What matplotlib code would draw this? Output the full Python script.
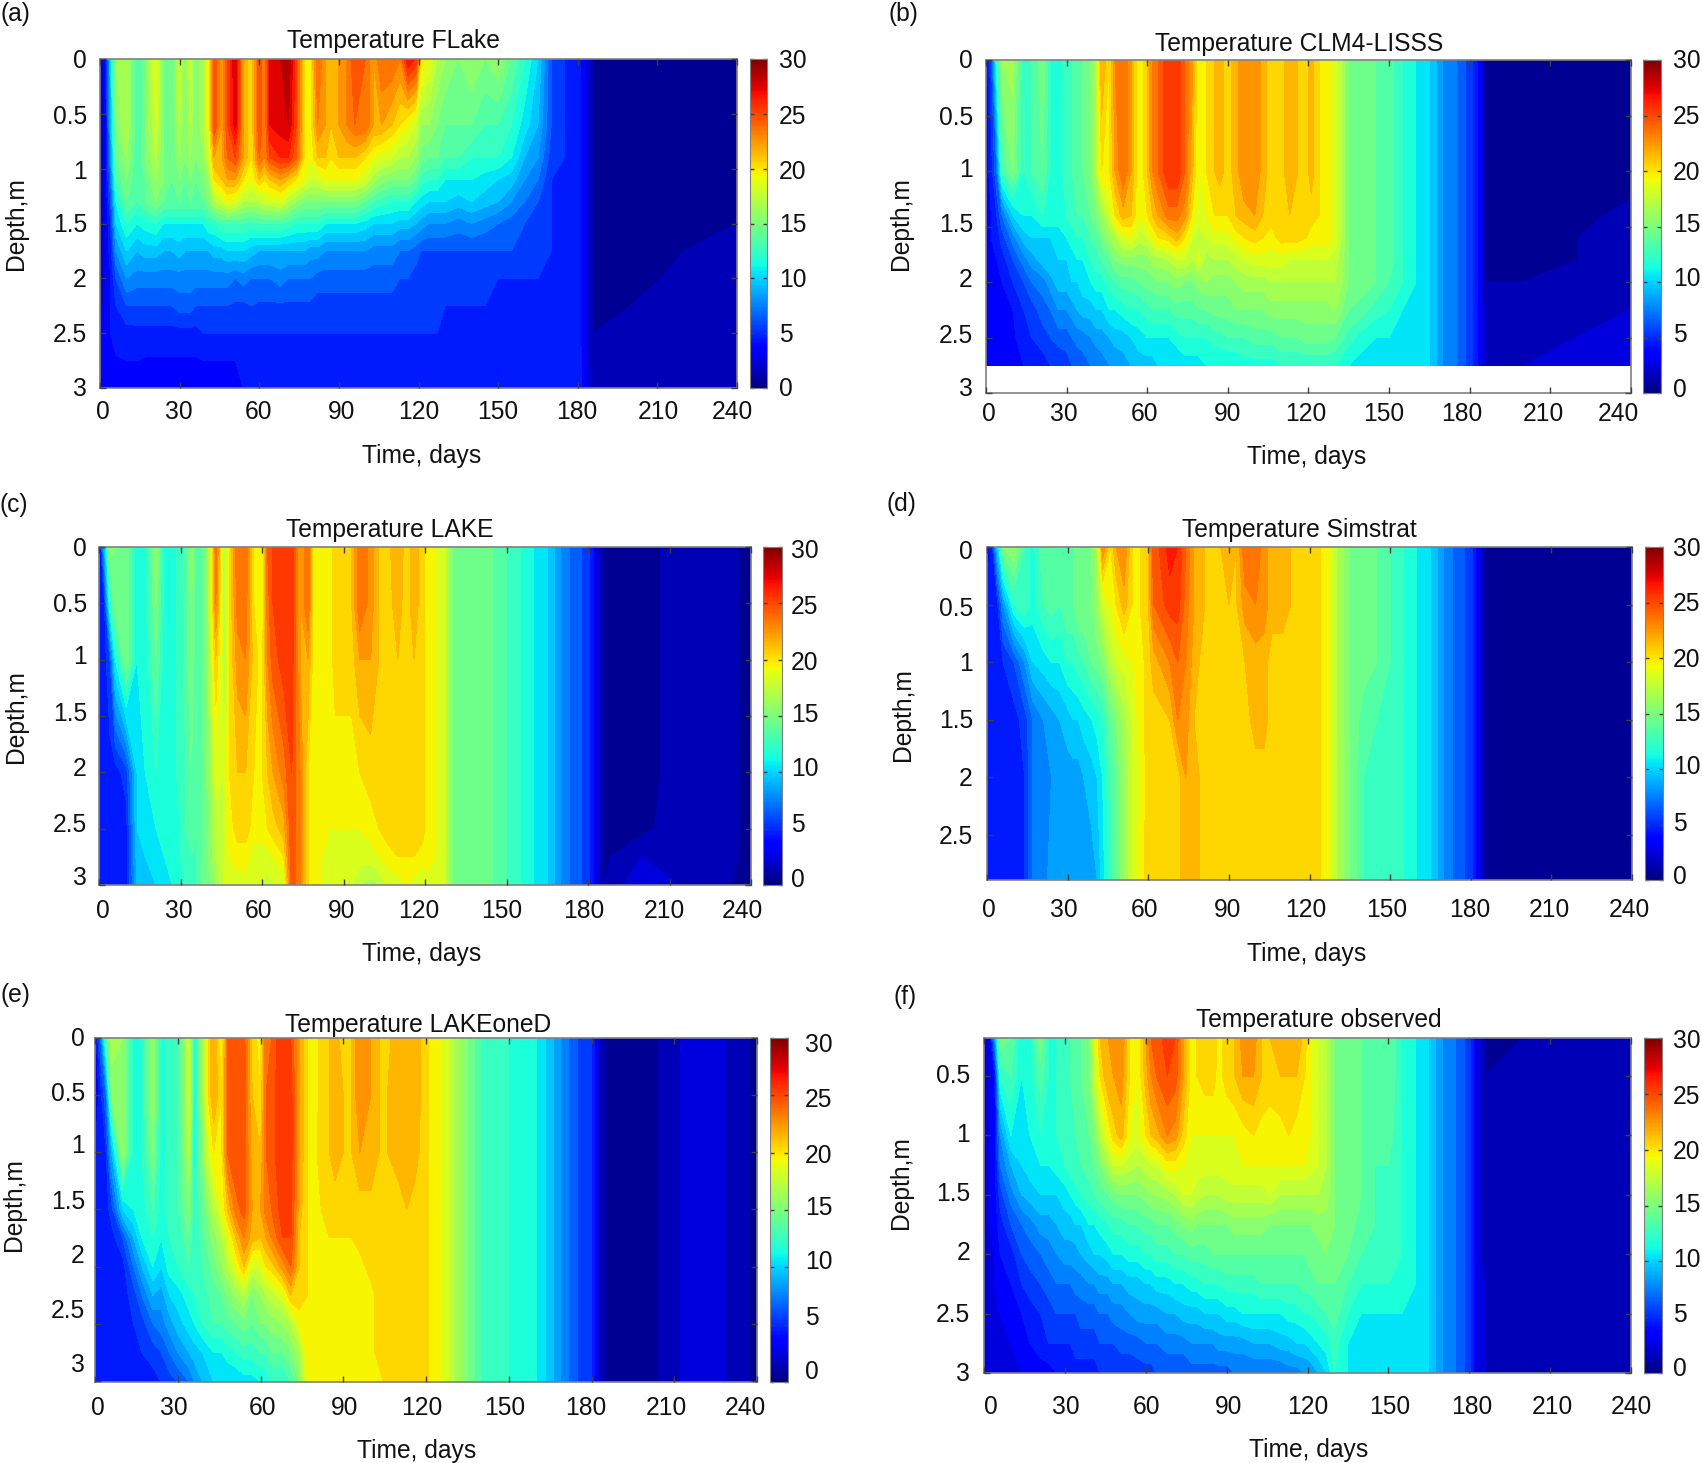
#!/usr/bin/env python3
"""Six panels of lake temperature against depth and time, values read off the picture."""
import numpy as np
import matplotlib
matplotlib.use("Agg")
import matplotlib.pyplot as plt
from matplotlib.cm import ScalarMappable
from matplotlib.colors import Normalize

W, H = 1702, 1463
FONT_SIZE = 17.7

plt.rcParams["font.family"] = ["Liberation Sans", "DejaVu Sans"]

TIME = [0, 2, 4, 6, 10, 14, 17, 21, 24, 27,
        30, 32, 34, 36, 39, 41, 43, 46, 48, 51,
        54, 57, 60, 62, 64, 68, 71, 74, 77, 79,
        82, 85, 87, 90, 93, 96, 100, 103, 106, 110,
        113, 116, 119, 121, 124, 127, 130, 135, 140, 145,
        150, 155, 160, 165, 170, 175, 180, 183, 186, 200, 220, 240]

X_TICKS = [0, 30, 60, 90, 120, 150, 180, 210, 240]
COLOR_TICKS = [30, 25, 20, 15, 10, 5, 0]

DEPTH_A = [0, 0.6, 0.9, 1.1, 1.3, 1.5, 1.75, 2, 2.25, 2.5, 2.75, 3]
TEMP_A = [
    [2, 3.5, 10, 16, 17, 13, 15, 19, 15, 14,
     18, 15, 18, 15, 17, 19, 25, 22, 25, 28,
     22, 20, 25, 23, 27, 28, 29, 25, 20, 19,
     24, 22, 21, 22, 23, 25, 24, 22, 24, 24,
     23, 27, 26, 20, 19, 17, 16, 15, 16, 15,
     16, 14, 12, 10, 6, 5, 4.5, 3, 1, 0.5, 1, 1],
    [2, 3, 9, 15, 17, 13, 15, 18, 15, 14,
     17, 15, 17, 15, 17, 19, 25, 22, 25, 27.5,
     22, 20, 25, 23, 27, 27.5, 28, 25, 20, 19,
     23, 22, 21, 22, 23, 24, 24, 22, 22, 21,
     20, 19, 18, 16, 16, 15, 14, 14, 14, 13,
     13, 12, 10.5, 9, 6, 5, 4.5, 3, 1, 0.5, 1, 1],
    [2, 3, 8, 14, 16, 13, 15, 17, 15, 14,
     16, 15, 16, 15, 16, 18, 22, 22, 24, 25,
     22, 20, 24, 23, 25, 26, 26, 24, 20, 19,
     21, 21, 20, 21, 21, 21, 20, 19, 18.5, 18,
     17, 17, 16, 14.5, 14, 14, 13, 13, 12, 12,
     12, 11, 9, 8, 5.5, 5, 4.5, 3, 1, 0.5, 1, 1],
    [2, 3, 7, 13, 15, 13, 14, 16, 15, 14,
     15, 14, 15, 14, 15, 16, 20, 21, 22, 22,
     20, 19, 21, 20, 21, 22, 21, 20, 19, 18,
     18, 19, 19, 19, 19, 19, 18, 16.5, 15.5, 15,
     15, 15, 14, 12.5, 12, 12, 11, 11, 11, 10.5,
     10, 9.5, 8, 7, 5, 5, 4.5, 3, 1, 0.5, 1, 1],
    [2, 3, 6, 11, 14, 13, 14, 15, 14, 14,
     14, 14, 14, 14, 14, 15, 17, 18, 19, 18.5,
     17, 17, 17, 18, 18, 18.5, 17, 16, 15, 15,
     15, 15, 15, 15, 15, 15, 14, 13, 12.5, 12,
     12, 12, 11, 10.5, 10, 10, 10, 9.5, 10, 9.5,
     9, 8, 7, 6, 5, 5, 4.5, 3, 1, 0.5, 1, 1],
    [2, 3, 5, 10, 12, 11, 11.5, 12, 11, 11,
     11, 11, 11, 11, 11, 12, 12, 13, 13, 13,
     13, 12.5, 13, 13, 13, 13, 12.5, 12, 12, 12,
     12, 11, 11, 11, 11, 11, 10.5, 10, 10, 10,
     9.5, 9.5, 9, 8.5, 8, 8, 8, 7.5, 8, 7.5,
     7, 6.5, 6, 5.5, 5, 5, 4.5, 3, 1, 0.5, 1, 1],
    [2, 3, 4.5, 8, 10, 9, 9.5, 9.5, 9, 9,
     9.5, 9, 9, 9, 9, 9, 9.5, 9.5, 10, 10,
     10, 9.5, 9, 9, 9, 9, 9, 9, 9, 8.5,
     8.5, 8, 8, 8, 8, 8, 8, 7.5, 7.5, 7.5,
     7, 7, 6.5, 6, 6, 6, 6, 6, 6, 6,
     6, 6, 5.5, 5.5, 5, 5, 4.5, 3, 1, 0.5, 1, 1.5],
    [2, 3, 4, 6, 8, 7.5, 7.5, 7.5, 7.5, 7.5,
     7.5, 7.5, 7.5, 7.5, 7.5, 7.5, 7.5, 7.5, 7.5, 7,
     7.5, 7, 7, 7, 7, 7.5, 7, 7, 7, 7,
     6.5, 6.5, 6.5, 6.5, 6.5, 6.5, 6.5, 6.5, 6.5, 6.5,
     6, 6, 5.5, 5.5, 5.5, 5.5, 5.5, 5.5, 5.5, 5.5,
     5, 5, 5, 5, 5, 5, 4.5, 3, 1, 0.6, 1.3, 1.5],
    [3, 3, 4, 5, 6, 6, 6, 6, 6, 6,
     6.5, 6.5, 6.5, 6, 6, 6, 6, 6, 6, 5.8,
     5.7, 6, 5.8, 5.8, 5.8, 5.8, 5.8, 5.8, 5.8, 5.8,
     5.5, 5.5, 5.5, 5.5, 5.5, 5.5, 5.5, 5.5, 5.5, 5.5,
     5.5, 5.5, 5.2, 5.2, 5.2, 5.2, 5, 5, 5, 5,
     5, 5, 5, 5, 5, 5, 4.5, 3, 1, 1, 1.5, 1.5],
    [4, 4, 4, 4.4, 4.5, 4.6, 4.6, 4.6, 4.6, 4.6,
     4.6, 4.6, 4.6, 4.6, 5, 5, 5, 5, 5, 5,
     5, 5, 5, 5, 5, 5, 5, 5, 5, 5,
     5, 5, 5, 5, 5, 5, 5, 5, 5, 5,
     5, 5, 5, 5, 5, 5, 5, 5, 5, 5,
     5, 5, 5, 5, 5, 5, 4.6, 3, 1, 1.2, 1.5, 1.5],
    [4, 4, 4, 3.9, 4, 4, 3.9, 3.9, 3.9, 3.9,
     3.9, 3.9, 3.9, 3.9, 4, 4, 4, 4, 4, 4,
     4.3, 4.5, 4.6, 4.6, 4.7, 4.7, 4.8, 5, 5, 5,
     5, 5, 5, 5, 5, 5, 5, 5, 5, 5,
     5, 5, 5, 5, 5, 5, 5, 5, 5, 5,
     5, 5, 5, 5, 5, 5, 4.8, 3, 1, 1.3, 2, 2],
    [4, 4, 3.7, 3.5, 3.5, 3.5, 3.5, 3.5, 3.5, 3.5,
     3.5, 3.5, 3.5, 3.5, 3.5, 3.5, 3.5, 3.5, 3.5, 3.7,
     4, 4.3, 4.5, 4.6, 4.6, 4.7, 5, 5, 5, 5,
     5, 5, 5, 5, 5, 5, 5, 5, 5, 5,
     5, 5, 5, 5, 5, 5, 5, 5, 5, 5,
     5, 5, 5, 5, 5, 5, 4.8, 3, 1.5, 1.5, 2, 2],
]

DEPTH_B = [0, 1, 1.4, 1.6, 1.8, 2, 2.25, 2.5, 2.75]
TEMP_B = [
    [3, 6, 12, 16, 16.5, 12, 13, 15, 12, 11.5,
     12.5, 13, 14, 14, 15, 17, 22, 20, 23, 24,
     22, 19, 21, 23, 24, 26, 26, 24, 22, 19,
     20, 21, 21.5, 20.5, 21.5, 23, 23, 21.5, 20.5, 20.5,
     22, 21, 20.5, 21.5, 20, 19.5, 18.5, 15, 14.5, 14,
     13.5, 12, 11, 10, 8, 7, 5.5, 4, 1, 0.5, 0.5, 0.5],
    [3.5, 4.5, 7, 13, 15, 12, 13, 14, 12, 11.5,
     12.5, 13, 14, 14, 15, 17, 20, 20, 22, 24,
     22, 19, 21, 23, 24, 26, 26, 24, 21, 19,
     20, 21, 21.5, 20.5, 21.5, 23, 23, 21.5, 20.5, 20.5,
     22, 21, 20.5, 21.5, 20, 19.5, 18.5, 15, 14.5, 14,
     13.5, 12, 11, 10, 8, 7, 5.5, 4, 1, 0.5, 0.5, 0.5],
    [3.5, 4, 5, 7, 10, 11, 11, 12, 12, 11.5,
     12, 12.5, 13, 13, 14, 15, 16, 18, 20, 21.5,
     21, 19, 20, 21, 22, 23.5, 23.5, 22.5, 19.5, 18.5,
     19, 20, 20, 20, 21, 21.5, 22, 21, 20.5, 20.5,
     21, 21, 20.5, 20.5, 20, 19.5, 18.5, 15, 14.5, 14,
     13.5, 12, 11, 10, 8, 7, 5.5, 4, 1, 0.5, 0.7, 1.3],
    [3.5, 4, 4.5, 5.5, 7.5, 9.5, 10, 10, 10, 10.5,
     11, 11.5, 12, 12, 13, 13.5, 14.5, 16, 17, 18.5,
     19, 17.5, 18, 19, 20, 20.5, 21.5, 20, 18, 17.5,
     18, 18.5, 18.5, 18.5, 19.5, 20, 20.5, 20, 19.5, 20.5,
     20.5, 20.5, 20, 19.5, 19.5, 19.5, 18.5, 15, 14.5, 14,
     13.5, 12, 11, 10, 8, 7, 5.5, 4, 1, 0.5, 1, 1.5],
    [3.5, 3.5, 4, 4.5, 6, 7.5, 8.5, 9.5, 10, 10,
     10, 10.5, 11, 11, 12, 12.5, 13, 14, 15, 15.5,
     15.5, 15.5, 15.5, 16.5, 16.5, 17, 18, 18, 17, 18.5,
     16.5, 17, 17, 17, 17.5, 18, 18.5, 18.5, 18.5, 18.5,
     18, 18, 18, 18, 18, 18, 17.5, 15, 14.5, 14,
     13.5, 12, 11, 10, 8, 7, 5.5, 4, 1, 1, 1, 1.5],
    [3.5, 3.5, 3.5, 4, 5, 6, 7, 7.5, 8.5, 9.5,
     9.5, 10, 10, 10.5, 11, 11.5, 11.5, 12.5, 13, 13.5,
     13.5, 14, 14.5, 14.5, 15, 15, 15.5, 15, 15, 15.5,
     16, 15.5, 15.5, 15.5, 16, 16.5, 16.5, 16.5, 17, 17,
     17, 17, 17, 17, 17, 17, 17, 15, 14.5, 14,
     13, 12, 11, 10, 8, 7, 5.5, 4, 1, 1, 1.5, 2],
    [3.5, 3.5, 3.5, 3.5, 4, 5, 5.5, 6.5, 7, 8,
     8, 8.5, 9, 9.5, 9.5, 10, 10, 11, 11, 11.5,
     12, 12, 12.5, 13, 13, 13, 13.5, 13.5, 13.5, 14,
     14, 14.5, 14.5, 14.5, 15, 15, 15, 15, 15.5, 15.5,
     15.5, 15.5, 15.5, 15.5, 15.5, 15.5, 16, 14, 13.5, 12.5,
     12, 11, 10.5, 10, 8, 7, 5.5, 4, 1.5, 1.5, 1.5, 2],
    [3.5, 3.5, 3.5, 3.5, 3.8, 4.5, 5, 5.5, 6, 6.5,
     6.5, 7, 7.5, 7.5, 8, 8.5, 8.5, 9, 9.5, 9.5,
     10, 10.5, 11, 11, 11, 11, 11.5, 12, 12, 12,
     12, 12.5, 12.5, 13, 13, 13, 13.5, 13.5, 13.5, 14,
     14, 14, 14.5, 14.5, 14.5, 14.5, 14, 12.5, 11.5, 11,
     11, 10.5, 10.5, 10, 8, 7, 5.5, 4, 2, 1.5, 2, 2.5],
    [3.5, 3.5, 3.5, 3.5, 3.5, 4, 4.5, 4.5, 5, 5,
     5.5, 6, 6, 6.5, 7, 7, 7.5, 8, 8, 8.5,
     9, 9.5, 9.5, 9.5, 10, 10, 10, 10.5, 10.5, 10.5,
     11, 11, 11, 11, 11, 11.5, 11.5, 11.5, 11.5, 12,
     12, 12, 12, 12, 12, 12, 12, 11, 10.5, 10.5,
     10.5, 10.5, 10.5, 10, 8, 7, 5.5, 4, 2, 2, 2.5, 2.5],
]

DEPTH_C = [0, 0.5, 1, 2, 2.5, 2.75, 3]
TEMP_C = [
    [3, 9, 16, 15, 15, 11, 11.5, 16, 11.5, 11.5,
     12.5, 13.5, 16, 13, 14.5, 18, 24, 17, 20, 24,
     24, 20, 19, 24, 25, 26, 26, 22, 24, 19,
     20, 19, 21, 20.5, 21, 24, 22.5, 21, 20.5, 22,
     20.5, 21.5, 20.5, 19.5, 19, 18, 15, 14.5, 15, 14,
     13, 12, 11, 10, 8, 6.5, 5.5, 2.5, 0.6, 0.5, 2, 0.7],
    [4.5, 5, 12, 15, 15, 11, 11.5, 15, 11.5, 11.5,
     12.5, 13.5, 15, 13, 14.5, 18, 23, 17, 20, 23.5,
     23.5, 20, 19, 23.5, 25, 26, 26, 22, 24, 19,
     20, 19, 21, 20.5, 21, 24, 22.5, 21, 20.5, 21.5,
     20.5, 21.5, 20.5, 19.5, 19, 18, 15, 14.5, 15, 14,
     13, 12, 11, 10, 8, 6.5, 5.5, 2.5, 0.6, 0.5, 2, 0.7],
    [4.5, 4.5, 6, 11, 15, 11, 11.5, 14, 11.5, 11.5,
     12.5, 13.5, 15, 13, 14.5, 17.5, 21, 17, 20, 22.5,
     23, 20.5, 19.5, 23, 24.5, 25.5, 25.5, 22, 22, 19.5,
     20, 19.5, 20.5, 20.5, 20.5, 22, 22, 21, 20.5, 21,
     20.5, 21, 20.5, 19.5, 19, 18, 15, 14.5, 15, 14,
     13, 12, 11, 10, 8, 6.5, 5.5, 2.5, 0.6, 0.5, 2, 0.7],
    [4.5, 4.5, 4.5, 4.5, 5.5, 10, 11, 12, 11.5, 11.5,
     12.5, 13, 14, 13, 14.5, 16, 18.5, 18, 20, 21,
     21, 20, 20, 21, 22, 23.5, 25, 23, 20, 19.5,
     19.5, 19.5, 19.5, 19.5, 19.5, 20, 20.5, 20.5, 20.5, 20.5,
     20.5, 20.5, 20.5, 19.5, 19, 18, 15, 14.5, 15, 14,
     13, 12, 11, 10, 8, 6.5, 5.5, 2.5, 0.6, 0.5, 2, 0.7],
    [4.5, 4.5, 4.5, 4.5, 4.5, 10, 10.5, 11, 11.5, 11.5,
     12, 13, 13.5, 13, 14.5, 15.5, 17.5, 18, 19.5, 20.5,
     20.5, 19.5, 19.5, 20, 20.5, 21.5, 25, 23, 20, 19.5,
     19.5, 19, 19, 19, 19, 19, 19.5, 20, 20.5, 20.5,
     20.5, 20.5, 20.5, 19.5, 19, 18, 15, 14.5, 15, 14,
     13, 12, 11, 10, 8, 6.5, 5.5, 2.5, 0.7, 0.7, 2, 0.7],
    [4.5, 4.5, 4.5, 4.5, 4.5, 9.5, 10, 10.5, 11, 11.5,
     12, 13, 13, 13, 14.5, 15.5, 17, 18, 19, 19.5,
     19.5, 18.5, 18.5, 18.5, 19, 20, 25, 23, 20, 19.5,
     19, 18.5, 19, 19, 18.5, 18.5, 18.5, 19, 19.5, 20,
     20, 20, 19.5, 19.5, 19, 18, 15, 14.5, 15, 14,
     13, 12, 11, 10, 8, 6.5, 5.5, 2.5, 0.8, 2, 2, 0.7],
    [4.5, 4.5, 4.5, 4.5, 4.5, 9, 9.5, 10, 10.5, 11,
     11.5, 12.5, 13, 13, 14.5, 15, 16, 18, 18.5, 18.5,
     18.5, 18, 18, 17.5, 18, 18, 25, 23, 20, 19.5,
     19, 18.5, 18.5, 18.5, 18, 17, 16.5, 17, 18, 18.5,
     19, 18.5, 18, 18.5, 18.5, 18, 15, 14.5, 15, 14,
     13, 12, 11, 10, 8, 6.5, 5.5, 2.5, 1, 3, 1.5, 0.7],
]

DEPTH_D = [0, 0.5, 1, 1.5, 2, 2.89]
TEMP_D = [
    [3, 5, 10, 15, 16, 13, 11.5, 14, 14, 13,
     14, 14, 15, 15, 15, 17, 23, 20, 22, 23,
     20, 20, 21, 25, 25, 26.5, 26, 24, 22, 22,
     20.5, 21, 21, 21.5, 21, 24, 24, 22.5, 21.5, 21.5,
     21, 21, 21, 20.5, 20, 19, 17, 15, 15, 14,
     13, 12, 11, 10, 8, 6.5, 5.5, 3, 0.6, 0.5, 1, 0.5],
    [4, 4.5, 5, 8, 12, 13, 11.5, 13, 13.5, 13,
     14, 14, 15, 15, 15, 16, 18, 19, 20, 21.5,
     20, 20, 21, 24, 24.5, 25.5, 25.5, 23.5, 22, 22,
     20.5, 20.5, 20.5, 21, 21, 22.5, 23, 22.5, 21.5, 21.5,
     21, 21, 20.5, 20.5, 20, 19, 17, 15, 15, 14,
     13, 12, 11, 10, 8, 6.5, 5.5, 3, 0.6, 0.5, 1, 0.5],
    [4.5, 4.5, 4.5, 5, 6, 8, 10, 10.5, 11, 11,
     12, 12, 12.5, 13, 14, 14.5, 15, 17, 18, 18.5,
     19, 19.5, 20.5, 21.5, 22, 23, 24, 23, 21.5, 21,
     20.5, 20.5, 20.5, 20.5, 20.5, 21, 21.5, 21.5, 20.5, 20.5,
     20.5, 20.5, 20.5, 20.5, 20, 19, 17, 15, 14.5, 14,
     13, 12, 11, 10, 8, 6.5, 5.5, 3, 0.6, 0.5, 1, 0.5],
    [4.5, 4.5, 4.5, 4.5, 4.5, 5.5, 7, 8, 8.5, 9,
     9.5, 10, 10, 10.5, 11, 11.5, 12, 14, 15, 16.5,
     18, 19.5, 20.5, 20.5, 20.5, 21, 23, 22.5, 21, 20.5,
     20.5, 20.5, 20.5, 20.5, 20.5, 20.5, 21.5, 21.5, 20.5, 20.5,
     20.5, 20.5, 20.5, 20.5, 20, 19, 17, 15, 13.5, 13,
     12.5, 12, 11, 10, 8, 6.5, 5.5, 3, 0.6, 0.5, 1, 0.5],
    [4.5, 4.5, 4.5, 4.5, 4.5, 5, 7, 7.5, 8, 8.5,
     8.5, 8.5, 8.5, 9, 9.5, 10, 11, 13, 14, 16,
     18, 19, 20.5, 20.5, 20.5, 20.5, 20.5, 22, 22, 21,
     20.5, 20.5, 20.5, 20.5, 20.5, 20.5, 20.5, 20.5, 20.5, 20.5,
     20.5, 20.5, 20.5, 20.5, 20, 19, 17, 15, 13, 12.5,
     12.5, 12, 11, 10, 8, 6.5, 5.5, 3, 0.6, 0.5, 1, 0.5],
    [4.5, 4.5, 4.5, 4.5, 4.5, 5, 7, 7.5, 8.5, 8.5,
     8.5, 8.5, 8.5, 8.5, 8.5, 9, 10.5, 12.5, 14, 16,
     18, 19.5, 20.5, 20.5, 20.5, 20.5, 20.5, 22, 22, 21,
     20.5, 20.5, 20.5, 20.5, 20.5, 20.5, 20.5, 20.5, 20.5, 20.5,
     20.5, 20.5, 20.5, 20.5, 20, 19, 17, 15, 13, 12.5,
     12.5, 12, 11, 10, 8, 6.5, 5.5, 3, 0.6, 0.5, 1, 0.5],
]

DEPTH_E = [0, 0.5, 1, 1.5, 1.75, 2, 2.25, 2.5, 2.75, 3.01]
TEMP_E = [
    [3, 7, 13, 17, 16, 11.5, 12, 16, 11.5, 12.5,
     13, 15, 18, 11.5, 16, 20, 22, 19, 24, 25,
     24.5, 20.5, 19.5, 24, 24, 26, 25, 22, 20, 19,
     20.5, 21, 21.5, 20.5, 21, 23, 22, 21, 20.5, 22,
     22, 22, 20.5, 20, 19.5, 18.5, 17, 15, 13, 12.5,
     12, 11.5, 11, 9.5, 7.5, 6, 5, 2, 0.5, 0.5, 3, 0.7],
    [3, 4.5, 7, 15, 16, 11.5, 12, 16, 11.5, 12.5,
     13, 15, 18, 11.5, 16, 20, 22, 20, 24, 25,
     24.5, 21, 20, 24, 24.5, 26, 25.5, 22, 20, 19,
     20.5, 21, 21.5, 21, 21, 23, 22, 21, 21, 22,
     22, 22, 20.5, 20, 19.5, 18.5, 17, 15, 13, 12.5,
     12, 11.5, 11, 9.5, 7.5, 6, 5, 2, 0.5, 0.5, 3, 0.7],
    [4, 4.5, 5, 9, 16, 11.5, 12, 15, 11.5, 12.5,
     13, 14.5, 17, 11.5, 15.5, 18, 20, 20, 24, 25,
     24.5, 21.5, 21, 24, 24.5, 26, 25.5, 22, 20, 19.5,
     20.5, 21, 21.5, 21, 21, 22, 22, 21, 21, 21.5,
     21.5, 21.5, 20.5, 20, 19.5, 18.5, 17, 15, 13, 12.5,
     12, 11.5, 11, 9.5, 7.5, 6, 5, 2, 0.5, 0.5, 3, 0.7],
    [4.5, 4.5, 4.5, 5.5, 10, 11, 11.5, 13, 11.5, 12.5,
     13, 14, 15, 12, 14, 15.5, 17, 19, 21, 23.5,
     24.5, 22, 22, 23.5, 24, 25.5, 25.5, 21.5, 20, 19.5,
     20, 20.5, 20.5, 20.5, 20.5, 20.5, 20.5, 20.5, 20.5, 20.5,
     21, 20.5, 20.5, 20, 19.5, 18.5, 17, 15, 13, 12.5,
     12, 11.5, 11, 9.5, 7.5, 6, 5, 2, 0.5, 0.5, 3, 0.7],
    [4.5, 4.5, 4.5, 4.5, 6, 9, 11, 12, 11, 12,
     12.5, 13, 14, 12, 13.5, 14.5, 15.5, 17, 18.5, 21,
     23, 21.5, 21, 22, 23, 25, 25, 21, 20, 19.5,
     20, 20, 20, 20, 20, 20.5, 20.5, 20.5, 20.5, 20.5,
     20.5, 20.5, 20.5, 20, 19.5, 18.5, 17, 15, 13, 12.5,
     12, 11.5, 11, 9.5, 7.5, 6, 5, 2, 0.5, 0.5, 3, 0.7],
    [4.5, 4.5, 4.5, 4.5, 4.5, 7, 9, 11, 10, 11.5,
     12, 12.5, 13, 13, 13, 13.5, 14.5, 16, 17, 19,
     21, 18, 18.5, 20, 20.5, 22.5, 24, 21, 20, 19.5,
     19.5, 20, 20, 19.5, 19.5, 19.5, 20.5, 20.5, 20.5, 20.5,
     20.5, 20.5, 20.5, 20, 19.5, 18.5, 17, 15, 13, 12.5,
     12, 11.5, 11, 9.5, 7.5, 6, 5, 2, 0.5, 0.5, 3, 0.7],
    [4.5, 4.5, 4.5, 4.5, 4.5, 5.5, 7, 9, 8.5, 10,
     10.5, 11, 11.5, 12, 13, 13, 13.5, 14, 15, 16,
     17, 15, 16, 17, 17.5, 18.5, 21, 21, 20, 19.5,
     19.5, 19.5, 19.5, 19.5, 19.5, 19.5, 19.5, 20.5, 20.5, 20.5,
     20.5, 20.5, 20.5, 20, 19.5, 18.5, 17, 15, 13, 12.5,
     12, 11.5, 11, 9.5, 7.5, 6, 5, 2, 0.5, 0.5, 3, 0.7],
    [4.5, 4.5, 4.5, 4.5, 4.5, 5, 5.5, 7, 7.5, 8.5,
     9.5, 10, 10.5, 11, 12, 12.5, 13, 13, 13.5, 14,
     14.5, 14, 15, 15, 15.5, 16, 17, 19, 19.5, 19.5,
     19.5, 19.5, 19.5, 19.5, 19.5, 19.5, 19.5, 20.5, 20.5, 20.5,
     20.5, 20.5, 20.5, 20, 19.5, 18.5, 17, 15, 13, 12.5,
     12, 11.5, 11, 9.5, 7.5, 6, 5, 2, 0.5, 0.5, 3, 0.7],
    [4.5, 4.5, 4.5, 4.5, 4.5, 4.5, 5, 5.5, 6, 7,
     8, 8.5, 9, 9.5, 10, 10.5, 11, 11, 11.5, 12,
     12.5, 12.5, 13, 13, 14, 14, 15, 16.5, 19.5, 19.5,
     19.5, 19.5, 19.5, 19.5, 19.5, 19.5, 19.5, 20.5, 20.5, 20.5,
     20.5, 20.5, 20.5, 20, 19.5, 18.5, 17, 15, 13, 12.5,
     12, 11.5, 11, 9.5, 7.5, 6, 5, 2, 0.5, 0.5, 3, 0.7],
    [4.5, 4.5, 4.5, 4.5, 4.5, 4.5, 4.5, 4.5, 5, 5.5,
     6, 6.5, 7, 8, 9, 9.5, 10, 10, 10, 10,
     10.5, 10.5, 11, 11.5, 12, 12, 13, 15, 19, 19.5,
     19.5, 19.5, 19.5, 19.5, 19.5, 19.5, 19.5, 19.5, 20.5, 20.5,
     20, 20.5, 20.5, 20, 19.5, 18.5, 17, 15, 13, 12.5,
     12, 11.5, 11, 9.5, 7.5, 6, 5, 2, 0.5, 0.5, 3, 0.7],
]

DEPTH_F = [0.18, 0.5, 1, 1.25, 1.5, 1.75, 2, 2.25, 2.5, 2.75, 3]
TEMP_F = [
    [2, 3, 8, 15, 14, 11, 11.5, 15, 12, 12,
     13, 13, 14, 14, 15, 18, 21, 22, 23, 23,
     20, 19, 22, 24, 24.5, 25.5, 25, 22, 19.5, 20,
     21, 21, 19.5, 20.5, 21, 22.5, 22.5, 21, 21, 21.5,
     22, 22, 20.5, 19, 18, 17, 15, 15, 14, 14,
     14, 12, 11, 10, 8, 7, 5.5, 2.5, 1, 1, 2, 1],
    [2.5, 3, 4, 12, 13, 11, 11.5, 13.5, 12, 12,
     13, 13, 13.5, 14, 15, 17.5, 20, 22, 22, 22.5,
     20, 19, 21.5, 23, 24, 25, 24.5, 22, 19.5, 20,
     20.5, 20.5, 19.5, 20.5, 21, 22, 22, 21, 20.5, 21,
     21, 21, 20, 19, 18, 17, 15, 15, 14, 14,
     14, 12, 11, 10, 8, 7, 5.5, 2.5, 1, 1.5, 2, 1],
    [2.5, 3, 3.5, 8, 11, 10.5, 11, 12, 12, 12,
     12.5, 13, 13, 13.5, 14, 15, 17, 19, 20.5, 21.5,
     19, 18.5, 20, 21, 21.5, 23, 22.5, 20.5, 19, 19,
     19, 19, 19, 19, 19, 19.5, 20, 19.5, 19.5, 19.5,
     20, 19.5, 19.5, 19, 18, 17, 15, 15, 14, 13.5,
     13.5, 12, 11, 10, 8, 7, 5.5, 2.5, 1, 1.5, 2, 1.5],
    [2.5, 3, 3.5, 7, 9, 10, 10.5, 11, 11, 11.5,
     12, 12.5, 13, 13, 13.5, 14, 15, 16.5, 18, 18,
     17.5, 17, 17.5, 18, 18, 19.5, 19.5, 19, 18.5, 18.5,
     18.5, 18.5, 18.5, 18.5, 19, 19, 19, 19, 19, 19,
     19, 19, 19, 18.5, 18, 17, 15, 15, 14, 13,
     13, 12, 11, 10, 8, 7, 5.5, 2.5, 1, 2, 2, 2],
    [3, 3, 3.5, 5.5, 7.5, 9, 9.5, 10, 10, 10,
     10.5, 11, 11.5, 12, 12.5, 13, 13.5, 14, 14.5, 15,
     15, 15, 15.5, 16, 16, 16.5, 17, 18, 18, 17.5,
     17, 17, 17, 17.5, 17.5, 17.5, 17.5, 17.5, 18, 17,
     17, 17, 17, 17, 17, 16.5, 15, 14.5, 14, 13,
     13, 12, 11, 10, 8, 7, 5.5, 2.5, 1.5, 2, 2, 2],
    [3, 3, 3.5, 4.5, 6, 7, 7.5, 8.5, 8.5, 9,
     9.5, 9.5, 10, 10, 11, 11, 11.5, 12, 12.5, 12.5,
     13, 13, 13.5, 13.5, 14, 14, 14.5, 15, 15.5, 15,
     15, 15, 15, 15, 15.5, 15.5, 15.5, 15.5, 15, 15,
     15, 15, 15, 15, 15.5, 15.5, 15, 14.5, 13.5, 13,
     13, 12, 11, 10, 8, 7, 5.5, 2.5, 1.5, 2, 2, 2],
    [3, 3, 3, 4, 4.5, 6, 6.5, 7, 7.5, 8,
     8.5, 8.5, 8.5, 9, 9.5, 10, 10, 10.5, 11, 11,
     11.5, 11.5, 12, 12, 12.5, 12.5, 13, 13, 13.5, 13.5,
     13.5, 14, 14, 14, 14, 14, 14, 14, 14, 14,
     14, 14, 14, 14.5, 14.5, 15, 15, 14, 13, 12.5,
     12.5, 12, 11, 10, 8, 7, 5.5, 2.5, 1.5, 2, 2, 2],
    [3, 3, 3, 3.5, 4, 5, 5.5, 6, 6.5, 7,
     7, 7, 7.5, 7.5, 8, 8, 8.5, 8.5, 9, 9,
     9.5, 9.5, 10, 10, 10.5, 10.5, 11, 11, 11.5, 11.5,
     12, 12, 12, 12.5, 12.5, 12.5, 12.5, 13, 13, 13,
     13, 13, 13.5, 13.5, 14, 14, 14, 13, 12, 12,
     12, 11.5, 11, 10, 8, 7, 5.5, 2.5, 2, 2, 2, 2],
    [3, 3, 3, 3, 3.5, 4, 4.5, 5, 5.5, 6,
     6, 6, 6, 6.5, 6.5, 6.5, 7, 7, 7.5, 7.5,
     8, 8.5, 8.5, 8.5, 8.5, 9, 9, 9.5, 9.5, 9.5,
     10, 10, 10, 10.5, 10.5, 11, 11, 11, 11, 11,
     11.5, 11.5, 12, 12, 12.5, 13, 13.5, 12, 11, 11,
     11, 11, 11, 10, 8, 7, 5.5, 2.5, 2, 2, 2, 2],
    [3, 3, 3, 3, 3, 3.5, 4, 4.5, 5, 5,
     5, 5, 5.5, 5.5, 5.5, 5.5, 6, 6, 6, 6.5,
     6.5, 6.5, 7, 7, 7, 7.5, 7.5, 7.5, 8, 8,
     8, 8, 8.5, 8.5, 8.5, 8.5, 9, 9, 9, 9.5,
     9.5, 10, 10, 10.5, 11, 11.5, 12.5, 11, 10.5, 10.5,
     10.5, 10.5, 10.5, 10, 8, 7, 5.5, 2.5, 2, 2, 2, 2],
    [3, 3, 3, 3, 3, 3, 3.5, 3.5, 3.5, 4,
     4, 4, 4.5, 4.5, 4.5, 4.5, 5, 5, 5, 5,
     5, 5.5, 5.5, 5.5, 6, 6, 6, 6, 6.5, 6.5,
     6.5, 6.5, 6.5, 6.5, 7, 7, 7, 7, 7, 7,
     7.5, 7.5, 8, 8, 9, 10, 12, 11, 10.5, 10.5,
     10.5, 10.5, 10.5, 10, 8, 7, 5.5, 2.5, 2, 2, 2, 2],
]

# all layout numbers below are pixels in the 1702x1463 picture
PANELS = [
    dict(tag="(a)", tag_xy=(15, 14), title="Temperature FLake", title_xy=(393, 41),
         depth=DEPTH_A, temp=TEMP_A, box=(100, 59, 737, 388), cbar=(750, 767), ylim=(3, 0),
         xlab_x=[103, 179, 259, 342, 419, 498, 577, 658, 732], xlab_y=412,
         xname_xy=(422, 456), yname_xy=(16, 224),
         ylabs=["0", "0.5", "1", "1.5", "2", "2.5", "3"], yticks=[0, 0.5, 1, 1.5, 2, 2.5, 3],
         ylab_x=87, ylab_y=[61, 117, 172, 225, 280, 335, 389],
         clab_x=779, clab_y=[61, 117, 172, 225, 280, 335, 389]),
    dict(tag="(b)", tag_xy=(903, 14), title="Temperature CLM4-LISSS", title_xy=(1299, 44),
         depth=DEPTH_B, temp=TEMP_B, box=(986, 60, 1631, 393), cbar=(1643, 1661), ylim=(3, 0),
         xlab_x=[989, 1064, 1145, 1228, 1306, 1384, 1462, 1543, 1618], xlab_y=414,
         xname_xy=(1307, 457), yname_xy=(901, 224),
         ylabs=["0", "0.5", "1", "1.5", "2", "2.5", "3"], yticks=[0, 0.5, 1, 1.5, 2, 2.5, 3],
         ylab_x=973, ylab_y=[61, 118, 170, 225, 280, 336, 389],
         clab_x=1673, clab_y=[61, 117, 173, 225, 279, 335, 390]),
    dict(tag="(c)", tag_xy=(14, 505), title="Temperature LAKE", title_xy=(390, 530),
         depth=DEPTH_C, temp=TEMP_C, box=(99, 547, 751, 885), cbar=(763, 782), ylim=(3, 0),
         xlab_x=[103, 179, 259, 342, 419, 502, 584, 664, 742], xlab_y=911,
         xname_xy=(422, 954), yname_xy=(16, 717),
         ylabs=["0", "0.5", "1", "1.5", "2", "2.5", "3"], yticks=[0, 0.5, 1, 1.5, 2, 2.5, 3],
         ylab_x=87, ylab_y=[549, 605, 657, 714, 769, 825, 878],
         clab_x=791, clab_y=[551, 607, 663, 715, 769, 825, 880]),
    dict(tag="(d)", tag_xy=(901, 504), title="Temperature Simstrat", title_xy=(1299, 530),
         depth=DEPTH_D, temp=TEMP_D, box=(987, 547, 1632, 880), cbar=(1645, 1663), ylim=(2.89, 0),
         xlab_x=[989, 1064, 1145, 1228, 1306, 1387, 1470, 1549, 1629], xlab_y=910,
         xname_xy=(1307, 954), yname_xy=(903, 715),
         ylabs=["0", "0.5", "1", "1.5", "2", "2.5"], yticks=[0, 0.5, 1, 1.5, 2, 2.5],
         ylab_x=973, ylab_y=[552, 609, 664, 721, 779, 837],
         clab_x=1673, clab_y=[549, 604, 660, 714, 767, 824, 877]),
    dict(tag="(e)", tag_xy=(15, 995), title="Temperature LAKEoneD", title_xy=(418, 1025),
         depth=DEPTH_E, temp=TEMP_E, box=(95, 1038, 757, 1382), cbar=(770, 788), ylim=(3.01, 0),
         xlab_x=[98, 174, 262, 345, 422, 505, 586, 666, 745], xlab_y=1408,
         xname_xy=(417, 1451), yname_xy=(14, 1205),
         ylabs=["0", "0.5", "1", "1.5", "2", "2.5", "3"], yticks=[0, 0.5, 1, 1.5, 2, 2.5, 3],
         ylab_x=85, ylab_y=[1039, 1094, 1146, 1202, 1256, 1311, 1365],
         clab_x=805, clab_y=[1045, 1100, 1156, 1208, 1262, 1318, 1372]),
    dict(tag="(f)", tag_xy=(905, 997), title="Temperature observed", title_xy=(1319, 1020),
         depth=DEPTH_F, temp=TEMP_F, box=(984, 1038, 1631, 1373), cbar=(1644, 1662), ylim=(3, 0.18),
         xlab_x=[991, 1066, 1147, 1229, 1308, 1390, 1472, 1552, 1631], xlab_y=1407,
         xname_xy=(1309, 1450), yname_xy=(901, 1183),
         ylabs=["0.5", "1", "1.5", "2", "2.5", "3"], yticks=[0.5, 1, 1.5, 2, 2.5, 3],
         ylab_x=970, ylab_y=[1076, 1135, 1194, 1253, 1315, 1374],
         clab_x=1673, clab_y=[1041, 1097, 1152, 1205, 1260, 1315, 1369]),
]


def put_text(fig, x, y, text, **kwargs):
    kwargs.setdefault("ha", "center")
    kwargs.setdefault("va", "center")
    fig.text(x / W, 1 - y / H, text, fontsize=FONT_SIZE, color="#111111", **kwargs)


def px_axes(fig, left, top, right, bottom):
    return fig.add_axes([left / W, 1 - bottom / H, (right - left) / W, (bottom - top) / H])


def draw_panel(fig, p):
    left, top, right, bottom = p["box"]
    ax = px_axes(fig, left, top, right, bottom)
    ax.contourf(TIME, p["depth"], np.array(p["temp"]), levels=np.arange(0, 31, 1),
                cmap="jet", vmin=0, vmax=30)
    ax.set_xlim(0, 240)
    ax.set_ylim(*p["ylim"])
    ax.set_xticks(X_TICKS)
    ax.set_yticks(p["yticks"])
    ax.tick_params(direction="in", length=4, width=1, color="#404040",
                   top=True, right=True, labelbottom=False, labelleft=False)
    ax.set_axisbelow(False)
    for spine in ax.spines.values():
        spine.set_color("#808080")
        spine.set_linewidth(1.2)

    cax = px_axes(fig, p["cbar"][0], top, p["cbar"][1], bottom)
    cb = fig.colorbar(ScalarMappable(Normalize(0, 30), "jet"), cax=cax)
    cb.set_ticks(COLOR_TICKS)
    cax.tick_params(direction="in", length=3, width=1, color="#404040",
                    left=True, right=True, labelright=False)
    cb.outline.set_edgecolor("#808080")

    put_text(fig, *p["tag_xy"], p["tag"])
    put_text(fig, *p["title_xy"], p["title"])
    put_text(fig, *p["xname_xy"], "Time, days")
    put_text(fig, *p["yname_xy"], "Depth,m", rotation=90)
    for x, tick in zip(p["xlab_x"], X_TICKS):
        put_text(fig, x, p["xlab_y"], str(tick))
    for y, label in zip(p["ylab_y"], p["ylabs"]):
        put_text(fig, p["ylab_x"], y, label, ha="right")
    for y, tick in zip(p["clab_y"], COLOR_TICKS):
        put_text(fig, p["clab_x"], y, str(tick), ha="left")


def main():
    fig = plt.figure(figsize=(W / 100, H / 100), dpi=100)
    for p in PANELS:
        draw_panel(fig, p)
    fig.savefig("out.png", dpi=100)


if __name__ == "__main__":
    main()
